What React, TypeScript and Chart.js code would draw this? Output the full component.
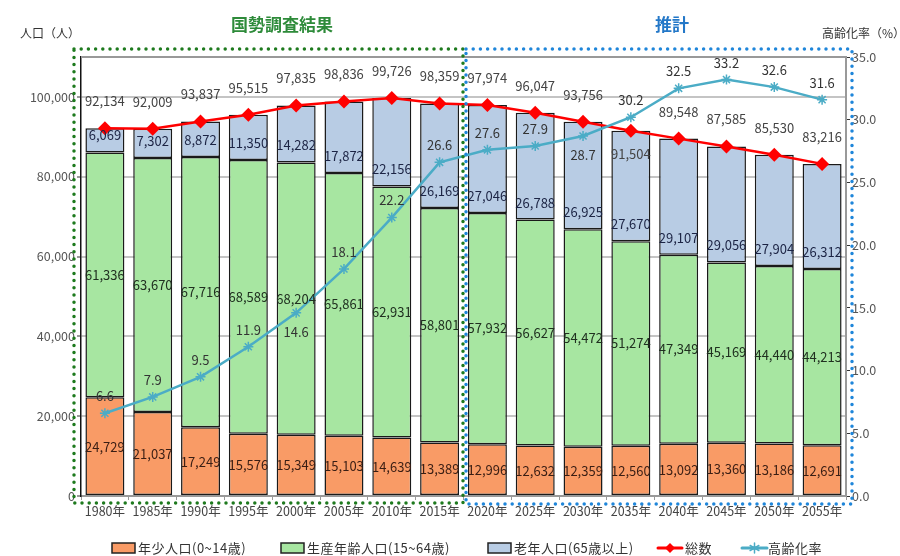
import React, { useEffect, useRef } from "react";
import { Chart, registerables } from "chart.js";

Chart.register(...registerables);

const years = ["1980年", "1985年", "1990年", "1995年", "2000年", "2005年", "2010年", "2015年", "2020年", "2025年", "2030年", "2035年", "2040年", "2045年", "2050年", "2055年"];
const young = [24729, 21037, 17249, 15576, 15349, 15103, 14639, 13389, 12996, 12632, 12359, 12560, 13092, 13360, 13186, 12691];
const working = [61336, 63670, 67716, 68589, 68204, 65861, 62931, 58801, 57932, 56627, 54472, 51274, 47349, 45169, 44440, 44213];
const elderly = [6069, 7302, 8872, 11350, 14282, 17872, 22156, 26169, 27046, 26788, 26925, 27670, 29107, 29056, 27904, 26312];
const totals = [92134, 92009, 93837, 95515, 97835, 98836, 99726, 98359, 97974, 96047, 93756, 91504, 89548, 87585, 85530, 83216];
const agingRate = [6.6, 7.9, 9.5, 11.9, 14.6, 18.1, 22.2, 26.6, 27.6, 27.9, 28.7, 30.2, 32.5, 33.2, 32.6, 31.6];

const seriesNames = ["年少人口(0~14歳)", "生産年齢人口(15~64歳)", "老年人口(65歳以上)", "総数", "高齢化率"];
const leftTicks = [0, 20000, 40000, 60000, 80000, 100000];

const C_ORANGE = "#F99B66";
const C_GREEN = "#A7E6A1";
const C_BLUE = "#B8CCE4";
const C_RED = "#FF0000";
const C_CYAN = "#4BACC6";
const FONT = '"Noto Sans CJK JP", "Noto Sans", sans-serif';

// label placement tweaks (style, not data)
const rateBelow = new Set([4, 10]);
const totalInside = new Set([11]);

const fmt = (v: number) => v.toLocaleString("en-US");

const labelPlugin = {
  id: "customLabels",
  afterDatasetsDraw(chart: any) {
    const ctx = chart.ctx;
    const x = chart.scales.x;
    const y = chart.scales.y;
    const y1 = chart.scales.y1;
    ctx.save();
    ctx.font = `13px ${FONT}`;
    ctx.textAlign = "center";
    ctx.textBaseline = "middle";
    years.forEach((_, i) => {
      const cx = x.getPixelForValue(i);
      const y0 = y.getPixelForValue(0);
      const yY = y.getPixelForValue(young[i]);
      const yW = y.getPixelForValue(young[i] + working[i]);
      const yT = y.getPixelForValue(totals[i]);
      ctx.fillStyle = "#3a1e14";
      ctx.fillText(fmt(young[i]), cx, (y0 + yY) / 2);
      ctx.fillStyle = "#203020";
      ctx.fillText(fmt(working[i]), cx, (yY + yW) / 2);
      ctx.fillStyle = "#1c2444";
      ctx.fillText(fmt(elderly[i]), cx, yW - 17);
      ctx.fillStyle = "#444";
      ctx.fillText(fmt(totals[i]), cx, totalInside.has(i) ? yT + 23 : yT - 27);
      const ry = y1.getPixelForValue(agingRate[i]);
      ctx.fillStyle = "#333";
      ctx.fillText(agingRate[i].toFixed(1), cx, rateBelow.has(i) ? ry + 19 : ry - 17);
    });
    ctx.restore();
  },
  afterDraw(chart: any) {
    const ctx = chart.ctx;
    const a = chart.chartArea;
    ctx.save();
    // top border
    ctx.strokeStyle = "#999";
    ctx.lineWidth = 2;
    ctx.beginPath();
    ctx.moveTo(a.left, a.top);
    ctx.lineTo(a.right, a.top);
    ctx.stroke();

    // dotted frames
    ctx.lineCap = "round";
    ctx.lineWidth = 3.5;
    ctx.setLineDash([0, 7.2]);
    ctx.strokeStyle = "#1E7A1E";
    ctx.strokeRect(74, 49, 389, 454);
    ctx.strokeStyle = "#1F86DA";
    ctx.strokeRect(466, 49, 386, 455);
    ctx.setLineDash([]);

    // section titles
    ctx.textAlign = "center";
    ctx.textBaseline = "middle";
    ctx.font = `bold 17px ${FONT}`;
    ctx.fillStyle = "#2E8B3A";
    ctx.fillText("国勢調査結果", 282, 25);
    ctx.fillStyle = "#2478C8";
    ctx.fillText("推計", 672, 25);

    // axis titles
    ctx.font = `12px ${FONT}`;
    ctx.fillStyle = "#333";
    ctx.textAlign = "left";
    ctx.fillText("人口（人）", 20, 33);
    ctx.fillText("高齢化率（%）", 822, 33);

    // legend
    const ly = 548;
    ctx.font = `13px ${FONT}`;
    try {
      (ctx as any).letterSpacing = "0.5px";
    } catch (e) {}
    const boxes: [number, string, string][] = [
      [112, C_ORANGE, seriesNames[0]],
      [281, C_GREEN, seriesNames[1]],
      [488, C_BLUE, seriesNames[2]],
    ];
    boxes.forEach(([bx, col, name]) => {
      ctx.fillStyle = col;
      ctx.fillRect(bx, ly - 5, 23, 10);
      ctx.strokeStyle = "#222";
      ctx.lineWidth = 1.5;
      ctx.strokeRect(bx, ly - 5, 23, 10);
      ctx.fillStyle = "#333";
      ctx.fillText(name, bx + 26, ly);
    });
    // red line icon
    ctx.strokeStyle = C_RED;
    ctx.lineWidth = 3;
    ctx.beginPath();
    ctx.moveTo(658, ly);
    ctx.lineTo(682, ly);
    ctx.stroke();
    ctx.fillStyle = C_RED;
    ctx.beginPath();
    ctx.moveTo(670, ly - 5);
    ctx.lineTo(675, ly);
    ctx.lineTo(670, ly + 5);
    ctx.lineTo(665, ly);
    ctx.closePath();
    ctx.fill();
    ctx.fillStyle = "#333";
    ctx.fillText(seriesNames[3], 685, ly);
    // cyan line icon
    ctx.strokeStyle = C_CYAN;
    ctx.lineWidth = 3;
    ctx.beginPath();
    ctx.moveTo(742, ly);
    ctx.lineTo(767, ly);
    ctx.stroke();
    ctx.lineWidth = 1.5;
    const sx = 754.5;
    ctx.beginPath();
    for (let k = 0; k < 3; k++) {
      const ang = (Math.PI / 3) * k + Math.PI / 2;
      ctx.moveTo(sx + Math.cos(ang) * 5, ly + Math.sin(ang) * 5);
      ctx.lineTo(sx - Math.cos(ang) * 5, ly - Math.sin(ang) * 5);
    }
    ctx.stroke();
    ctx.fillStyle = "#333";
    ctx.fillText(seriesNames[4], 768, ly);
    ctx.restore();
  },
};

export default function App() {
  const ref = useRef<HTMLCanvasElement | null>(null);
  useEffect(() => {
    if (!ref.current) return;
    const barCommon = {
      type: "bar" as const,
      yAxisID: "y",
      borderColor: "#1a1a1a",
      borderWidth: 1.5,
      borderSkipped: false,
      barPercentage: 0.815,
      categoryPercentage: 1,
      order: 2,
      stack: "pop",
    };
    const chart = new Chart(ref.current, {
      type: "bar",
      data: {
        labels: years,
        datasets: [
          { ...barCommon, label: seriesNames[0], data: young, backgroundColor: C_ORANGE },
          { ...barCommon, label: seriesNames[1], data: working, backgroundColor: C_GREEN },
          { ...barCommon, label: seriesNames[2], data: elderly, backgroundColor: C_BLUE },
          {
            type: "line",
            label: seriesNames[3],
            data: totals,
            yAxisID: "y",
            stack: "total",
            borderColor: C_RED,
            backgroundColor: C_RED,
            borderWidth: 2.5,
            pointStyle: "rectRot",
            pointRadius: 7,
            pointBorderWidth: 0,
            tension: 0,
            order: 1,
          } as any,
          {
            type: "line",
            label: seriesNames[4],
            data: agingRate,
            yAxisID: "y1",
            borderColor: C_CYAN,
            backgroundColor: C_CYAN,
            borderWidth: 2.5,
            pointStyle: "star",
            pointRadius: 5,
            pointBorderWidth: 1.5,
            pointBorderColor: C_CYAN,
            tension: 0,
            order: 0,
          } as any,
        ],
      },
      options: {
        responsive: false,
        animation: false,
        devicePixelRatio: 1,
        layout: { padding: { top: 57, left: 0, right: 0, bottom: 0 } },
        plugins: {
          legend: { display: false },
          tooltip: { enabled: false },
          title: { display: false },
        },
        scales: {
          x: {
            stacked: true,
            offset: true,
            grid: {
              drawOnChartArea: false,
              offset: true,
              tickLength: 4,
              color: "#999",
            },
            border: { display: true, color: "#999", width: 2 },
            ticks: {
              color: "#444",
              font: { family: FONT, size: 12.5 },
              padding: 4,
              maxRotation: 0,
              autoSkip: false,
            },
            afterFit: (s: any) => {
              s.height = 60;
            },
          },
          y: {
            stacked: true,
            min: 0,
            max: 110000,
            position: "left",
            afterBuildTicks: (s: any) => {
              s.ticks = leftTicks.map((v) => ({ value: v }));
            },
            grid: {
              color: "#c4c4c4",
              lineWidth: 2,
              tickColor: "#333",
              tickLength: 4,
              tickWidth: 1,
            },
            border: { display: true, color: "#111", width: 1.5 },
            ticks: {
              color: "#555",
              font: { family: FONT, size: 12.5 },
              padding: 2,
              callback: (v: any) => fmt(Number(v)),
            },
            afterFit: (s: any) => {
              s.width = 81;
            },
          },
          y1: {
            min: 0,
            max: 35,
            position: "right",
            grid: {
              drawOnChartArea: false,
              tickColor: "#333",
              tickLength: 4,
            },
            border: { display: true, color: "#999", width: 2 },
            ticks: {
              stepSize: 5,
              color: "#555",
              font: { family: FONT, size: 12.5 },
              padding: 2,
              callback: (v: any) => Number(v).toFixed(1),
            },
            afterFit: (s: any) => {
              s.width = 54;
            },
          },
        },
      },
      plugins: [labelPlugin],
    });
    return () => chart.destroy();
  }, []);
  return (
    <div style={{ position: "fixed", left: 0, top: 0, width: 900, height: 556, background: "#fff" }}>
      <canvas ref={ref} width={900} height={556} style={{ width: 900, height: 556, display: "block" }} />
    </div>
  );
}
